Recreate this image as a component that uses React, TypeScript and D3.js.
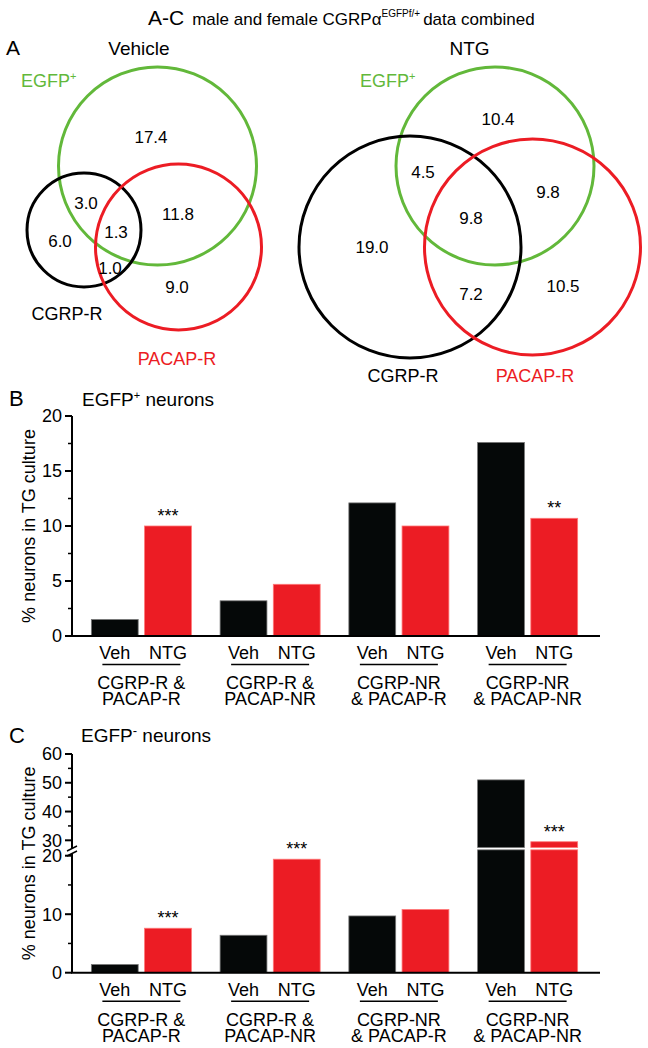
import React from "react";
import * as d3 from "d3";

// ---------- DATA ----------
const regionKeys = ["EGFP", "EGFP_CGRP", "CGRP", "ALL", "EGFP_PACAP", "CGRP_PACAP", "PACAP"];
const vehicleRegionValues = [17.4, 3.0, 6.0, 1.3, 11.8, 1.0, 9.0];
const ntgRegionValues = [10.4, 4.5, 19.0, 9.8, 9.8, 7.2, 10.5];

const categories = [
  ["CGRP-R &", "PACAP-R"],
  ["CGRP-R &", "PACAP-NR"],
  ["CGRP-NR", "& PACAP-R"],
  ["CGRP-NR", "& PACAP-NR"],
];
const treatments = ["Veh", "NTG"];
const bVeh = [1.5, 3.2, 12.1, 17.6];
const bNtg = [10.0, 4.7, 10.0, 10.7];
const bSig = ["***", "", "", "**"];
const cVeh = [1.4, 6.4, 9.7, 51.0];
const cNtg = [7.6, 19.4, 10.8, 29.5];
const cSig = ["***", "***", "", "***"];
const bTicks = [0, 5, 10, 15, 20];
const bMinor = [2.5, 7.5, 12.5, 17.5];
const cLowTicks = [0, 10, 20];
const cLowMinor = [5, 15];
const cHighTicks = [30, 40, 50, 60];
const cHighMinor = [35, 45, 55];

// ---------- LAYOUT ----------
const FONT = "'Liberation Sans', Arial, Helvetica, sans-serif";
const GREEN = "#62b83a";
const RED = "#ec1c24";
const BLACK = "#050808";

const vennLayouts = [
  {
    values: vehicleRegionValues,
    circles: {
      EGFP: { cx: 157.5, cy: 166, r: 99 },
      CGRP: { cx: 84, cy: 230, r: 57 },
      PACAP: { cx: 178.5, cy: 247, r: 83 },
    },
    labelPos: {
      EGFP: [151, 137], EGFP_CGRP: [86, 203], CGRP: [60, 241], ALL: [116, 232],
      EGFP_PACAP: [178, 214], CGRP_PACAP: [110, 268], PACAP: [177, 287],
    },
    egfpLabel: [21, 87],
    cgrpLabel: [67, 320],
    pacapLabel: [177, 365],
  },
  {
    values: ntgRegionValues,
    circles: {
      EGFP: { cx: 495, cy: 166, r: 99 },
      CGRP: { cx: 410, cy: 247, r: 111 },
      PACAP: { cx: 532.5, cy: 247, r: 108 },
    },
    labelPos: {
      EGFP: [498, 119], EGFP_CGRP: [423, 172], CGRP: [372, 247], ALL: [471, 218],
      EGFP_PACAP: [548, 192], CGRP_PACAP: [471, 294], PACAP: [563, 286],
    },
    egfpLabel: [360, 87],
    cgrpLabel: [403, 382],
    pacapLabel: [535, 382],
  },
];

function Venn({ layout }: { layout: any }) {
  const { circles, labelPos, values } = layout;
  const circleList = [
    { key: "EGFP", color: GREEN },
    { key: "CGRP", color: "#000" },
    { key: "PACAP", color: RED },
  ];
  return (
    <g>
      {circleList.map((c) => (
        <circle key={c.key} cx={circles[c.key].cx} cy={circles[c.key].cy} r={circles[c.key].r}
          fill="none" stroke={c.color} strokeWidth={3} />
      ))}
      {regionKeys.map((k, i) => (
        <text key={k} x={labelPos[k][0]} y={labelPos[k][1]} dy="0.36em" textAnchor="middle"
          fontSize={17} fill="#000">{d3.format(".1f")(values[i])}</text>
      ))}
      <text x={layout.egfpLabel[0]} y={layout.egfpLabel[1]} fontSize={18} fill={GREEN}>
        EGFP<tspan fontSize={11} dy={-7}>+</tspan>
      </text>
      <text x={layout.cgrpLabel[0]} y={layout.cgrpLabel[1]} fontSize={18} textAnchor="middle" fill="#000">CGRP-R</text>
      <text x={layout.pacapLabel[0]} y={layout.pacapLabel[1]} fontSize={18} textAnchor="middle" fill={RED}>PACAP-R</text>
    </g>
  );
}

const AXIS_X = 72;
const AXIS_END = 600;
const xGroup = d3.scaleBand<number>().domain(d3.range(categories.length)).range([77, 592]).paddingInner(0.223).paddingOuter(0.1115);
const xSub = d3.scaleBand<string>().domain(treatments).range([0, xGroup.bandwidth()]).paddingInner(0.12);

function XLabels({ baseY }: { baseY: number }) {
  return (
    <g>
      {categories.map((cat, i) => {
        const gx = xGroup(i)!;
        const cx = gx + xGroup.bandwidth() / 2;
        return (
          <g key={i}>
            {treatments.map((t) => (
              <text key={t} x={gx + xSub(t)! + xSub.bandwidth() / 2} y={baseY + 23} textAnchor="middle" fontSize={18}>{t}</text>
            ))}
            <line x1={cx - 39} x2={cx + 39} y1={baseY + 28.5} y2={baseY + 28.5} stroke="#000" strokeWidth={1.5} />
            <text x={cx} y={baseY + 53} textAnchor="middle" fontSize={18}>{cat[0]}</text>
            <text x={cx} y={baseY + 69} textAnchor="middle" fontSize={18}>{cat[1]}</text>
          </g>
        );
      })}
    </g>
  );
}

function Bar({ x, y0, y1, color }: { x: number; y0: number; y1: number; color: string }) {
  return (
    <rect x={x} y={Math.min(y0, y1)} width={xSub.bandwidth()} height={Math.abs(y0 - y1)}
      fill={color === "veh" ? BLACK : RED} stroke={color === "veh" ? "#777" : "#f77"} strokeWidth={0.8} />
  );
}

function ChartB() {
  const y = d3.scaleLinear().domain([0, 20]).range([636, 416]);
  return (
    <g>
      <text x={9} y={406} fontSize={22}>B</text>
      <text x={82} y={406} fontSize={19}>EGFP<tspan fontSize={11} dy={-7}>+</tspan><tspan dy={7}> neurons</tspan></text>
      <text transform={`translate(35, ${(y(0) + y(20)) / 2}) rotate(-90)`} textAnchor="middle" fontSize={18}>% neurons in TG culture</text>
      {categories.map((_, i) => {
        const gx = xGroup(i)!;
        const vals = [bVeh[i], bNtg[i]];
        return (
          <g key={i}>
            {treatments.map((t, j) => (
              <Bar key={t} x={gx + xSub(t)!} y0={y(0)} y1={y(vals[j])} color={j === 0 ? "veh" : "ntg"} />
            ))}
            {bSig[i] && (
              <text x={gx + xSub("NTG")! + xSub.bandwidth() / 2} y={y(bNtg[i]) - 4} textAnchor="middle" fontSize={18}>{bSig[i]}</text>
            )}
          </g>
        );
      })}
      <line x1={AXIS_X} x2={AXIS_X} y1={y(20)} y2={y(0)} stroke="#000" strokeWidth={2} />
      {bTicks.map((t) => (
        <g key={t}>
          <line x1={AXIS_X - 7} x2={AXIS_X} y1={y(t)} y2={y(t)} stroke="#000" strokeWidth={2} />
          <text x={AXIS_X - 10} y={y(t)} dy="0.36em" textAnchor="end" fontSize={18}>{t}</text>
        </g>
      ))}
      {bMinor.map((t) => (
        <line key={t} x1={AXIS_X - 4} x2={AXIS_X} y1={y(t)} y2={y(t)} stroke="#000" strokeWidth={1.5} />
      ))}
      <line x1={AXIS_X - 1} x2={AXIS_END} y1={y(0)} y2={y(0)} stroke="#000" strokeWidth={2} />
      <XLabels baseY={y(0)} />
    </g>
  );
}

function ChartC() {
  const BREAK_LOW = 21;
  const BREAK_HIGH = 27.5;
  const yLow = d3.scaleLinear().domain([0, BREAK_LOW]).range([972.7, 849.85]);
  const yHigh = d3.scaleLinear().domain([BREAK_HIGH, 60]).range([847.5, 754]);
  const axisMid = (yLow(0) + yHigh(60)) / 2;
  return (
    <g>
      <text x={9} y={743} fontSize={22}>C</text>
      <text x={81} y={742} fontSize={19}>EGFP<tspan fontSize={13} dy={-7}>-</tspan><tspan dy={7}> neurons</tspan></text>
      <text transform={`translate(35, ${axisMid}) rotate(-90)`} textAnchor="middle" fontSize={18}>% neurons in TG culture</text>
      {categories.map((_, i) => {
        const gx = xGroup(i)!;
        const vals = [cVeh[i], cNtg[i]];
        return (
          <g key={i}>
            {treatments.map((t, j) => {
              const v = vals[j];
              const bx = gx + xSub(t)!;
              const col = j === 0 ? "veh" : "ntg";
              if (v <= BREAK_LOW) {
                return <Bar key={t} x={bx} y0={yLow(0)} y1={yLow(v)} color={col} />;
              }
              return (
                <g key={t}>
                  <Bar x={bx} y0={yLow(0)} y1={yLow(BREAK_LOW)} color={col} />
                  <Bar x={bx} y0={yHigh(BREAK_HIGH)} y1={yHigh(v)} color={col} />
                </g>
              );
            })}
            {cSig[i] && (
              <text x={gx + xSub("NTG")! + xSub.bandwidth() / 2}
                y={(cNtg[i] <= BREAK_LOW ? yLow(cNtg[i]) : yHigh(cNtg[i])) - 4}
                textAnchor="middle" fontSize={18}>{cSig[i]}</text>
            )}
          </g>
        );
      })}
      <line x1={AXIS_X} x2={AXIS_X} y1={yHigh(60)} y2={848} stroke="#000" strokeWidth={2} />
      <line x1={AXIS_X} x2={AXIS_X} y1={853} y2={yLow(0)} stroke="#000" strokeWidth={2} />
      <line x1={AXIS_X - 5} x2={AXIS_X + 5} y1={851} y2={846} stroke="#000" strokeWidth={1.5} />
      <line x1={AXIS_X - 5} x2={AXIS_X + 5} y1={856} y2={851} stroke="#000" strokeWidth={1.5} />
      {cLowTicks.map((t) => (
        <g key={"l" + t}>
          <line x1={AXIS_X - 7} x2={AXIS_X} y1={yLow(t)} y2={yLow(t)} stroke="#000" strokeWidth={2} />
          <text x={AXIS_X - 10} y={yLow(t)} dy="0.36em" textAnchor="end" fontSize={18}>{t}</text>
        </g>
      ))}
      {cLowMinor.map((t) => (
        <line key={"lm" + t} x1={AXIS_X - 4} x2={AXIS_X} y1={yLow(t)} y2={yLow(t)} stroke="#000" strokeWidth={1.5} />
      ))}
      {cHighTicks.map((t) => (
        <g key={"h" + t}>
          <line x1={AXIS_X - 7} x2={AXIS_X} y1={yHigh(t)} y2={yHigh(t)} stroke="#000" strokeWidth={2} />
          <text x={AXIS_X - 10} y={yHigh(t)} dy="0.36em" textAnchor="end" fontSize={18}>{t}</text>
        </g>
      ))}
      {cHighMinor.map((t) => (
        <line key={"hm" + t} x1={AXIS_X - 4} x2={AXIS_X} y1={yHigh(t)} y2={yHigh(t)} stroke="#000" strokeWidth={1.5} />
      ))}
      <line x1={AXIS_X - 1} x2={AXIS_END} y1={yLow(0)} y2={yLow(0)} stroke="#000" strokeWidth={2} />
      <XLabels baseY={yLow(0)} />
    </g>
  );
}

export default function App() {
  return (
    <svg width={648} height={1048} viewBox="0 0 648 1048"
      style={{ position: "absolute", left: 0, top: 0, background: "#fff", fontFamily: FONT }}>
      <rect width={648} height={1048} fill="#fff" />
      <text x={148} y={25} fontSize={17}>
        <tspan fontSize={21}>A-C</tspan>
        <tspan dx={8}>male and female CGRPα</tspan>
        <tspan fontSize={10} dy={-8}>EGFPf/+</tspan>
        <tspan dy={8} dx={3}>data combined</tspan>
      </text>
      <text x={6} y={55} fontSize={21}>A</text>
      <text x={139} y={55} fontSize={19} textAnchor="middle">Vehicle</text>
      <text x={469.5} y={55} fontSize={19} textAnchor="middle">NTG</text>
      {vennLayouts.map((l, i) => <Venn key={i} layout={l} />)}
      <ChartB />
      <ChartC />
    </svg>
  );
}
